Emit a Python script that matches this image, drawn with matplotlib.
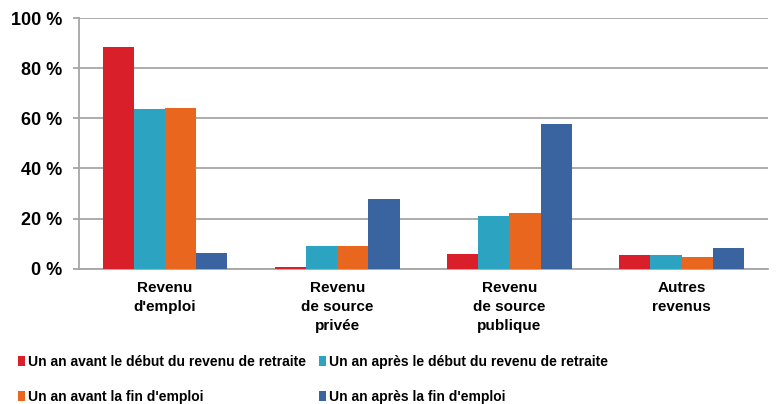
import matplotlib
matplotlib.use("Agg")
import matplotlib.pyplot as plt
import numpy as np

categories = ["Revenu\nd'emploi", "Revenu\nde source\nprivée", "Revenu\nde source\npublique", "Autres\nrevenus"]
series_labels = ["Un an avant le début du revenu de retraite",
                 "Un an après le début du revenu de retraite",
                 "Un an avant la fin d'emploi",
                 "Un an après la fin d'emploi"]
avant_retraite = [88.5, 0.5, 5.9, 5.3]
apres_retraite = [63.8, 9.1, 21.2, 5.3]
avant_fin = [64.0, 9.1, 22.2, 4.8]
apres_fin = [6.1, 27.7, 57.8, 8.1]
yticks = [0, 20, 40, 60, 80, 100]
ytick_labels = ["0 %", "20 %", "40 %", "60 %", "80 %", "100 %"]

colors = ["#D9202A", "#2CA3C0", "#E9661F", "#3A64A0"]
series = [avant_retraite, apres_retraite, avant_fin, apres_fin]
font = ['Liberation Sans']

fig = plt.figure(figsize=(7.77, 4.04), dpi=100)
ax = fig.add_axes([0.1017, 0.3349, 0.8863, 0.6205])

x = np.arange(len(categories))
w = 0.181
bars = []
for i, (vals, c) in enumerate(zip(series, colors)):
    b = ax.bar(x + (i - 1.5) * w, vals, w, color=c, edgecolor='none', zorder=3)
    bars.append(b)

ax.set_xlim(-0.5, 3.5)
ax.set_ylim(0, 100)
ax.set_yticks(yticks)
ax.set_yticklabels(ytick_labels, fontfamily=font, fontweight='bold', fontsize=13)
ax.yaxis.grid(True, color='#a6a6a6', linewidth=1.3, zorder=0)
ax.set_axisbelow(True)
for s in ['top', 'right']:
    ax.spines[s].set_visible(False)
for s in ['left', 'bottom']:
    ax.spines[s].set_color('#a6a6a6')
    ax.spines[s].set_linewidth(1.3)
ax.tick_params(axis='y', length=4, color='#a6a6a6', width=1.3, pad=8)
ax.tick_params(axis='x', length=0, pad=9)
ax.set_xticks(x)
ax.set_xticklabels(categories, fontfamily=font, fontweight='bold', fontsize=11, linespacing=1.45, va='top')

handles = [bars[0], bars[2], bars[1], bars[3]]
labels = [series_labels[0], series_labels[2], series_labels[1], series_labels[3]]
leg = fig.legend(handles, labels, ncol=2, loc='upper left', bbox_to_anchor=(0.023, 0.121),
                 frameon=False, prop={'family': font, 'weight': 'bold', 'size': 10},
                 handlelength=0.5, handleheight=0.75, handletextpad=0.2, columnspacing=1.0,
                 labelspacing=1.5, borderaxespad=0, borderpad=0)

fig.savefig("out.png", dpi=100)
